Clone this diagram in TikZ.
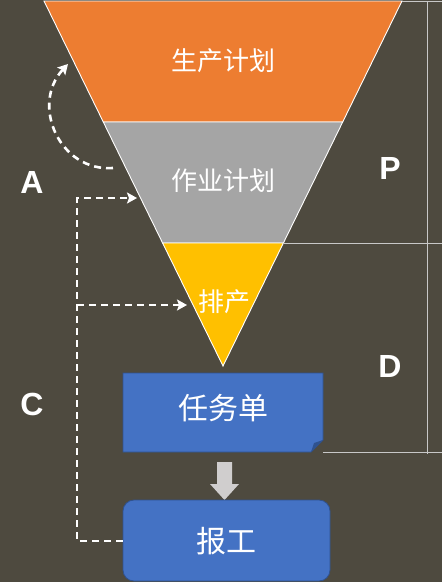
\documentclass[tikz,border=0pt]{standalone}
\usepackage{fontspec}
\newfontfamily\cjk{Noto Sans CJK SC}
\newfontfamily\lab{Liberation Sans}
\usetikzlibrary{arrows.meta}
\definecolor{bg}{HTML}{4E4A3F}
\definecolor{forange}{HTML}{ED7D31}
\definecolor{fgray}{HTML}{A5A5A5}
\definecolor{fyellow}{HTML}{FFC000}
\definecolor{fblue}{HTML}{4472C4}
\definecolor{fblued}{HTML}{2F528F}
\definecolor{guide}{HTML}{C8C8C8}
\definecolor{arrgray}{HTML}{D0CECE}
\tikzset{
  seg/.style={draw=white, line width=0.9pt, line join=miter},
  cjktext/.style={text=white, font=\cjk\fontsize{26}{30}\selectfont, inner sep=0pt},
  boxtext/.style={text=white, font=\cjk\fontsize{30}{34}\selectfont, inner sep=0pt},
  letter/.style={text=white, font=\lab\bfseries\fontsize{32}{36}\selectfont, inner sep=0pt},
  guideline/.style={draw=guide, line width=0.8pt},
  dashline/.style={draw=white, line width=2.6pt, dash pattern=on 7pt off 5pt},
  tip/.style={-{Stealth[length=10pt,width=11pt,inset=2pt]}},
}
\begin{document}
\begin{tikzpicture}[x=1pt,y=-1pt]
\fill[bg] (0,0) rectangle (442,582);
\useasboundingbox (0,0) rectangle (442,582);
% funnel
\path[seg, fill=forange] (44,1) -- (402,1) -- (342.7,122) -- (103.3,122) -- cycle;
\path[seg, fill=fgray] (103.3,122) -- (342.7,122) -- (283.4,243) -- (162.6,243) -- cycle;
\path[seg, fill=fyellow] (162.6,243) -- (283.4,243) -- (223,366) -- cycle;
\node[cjktext] (plan) at (223,61) {生产计划};
\node[cjktext] (work) at (223,181) {作业计划};
\node[cjktext] (sched) at (224,302) {排产};
% guide lines
\draw[guideline] (402,1) -- (442,1);
\draw[guideline] (283.4,243.5) -- (442,243.5);
\draw[guideline] (323,452.5) -- (442,452.5);
\draw[guideline] (427.5,1) -- (427.5,454);
% task box with folded corner
\path[fill=fblue, draw=fblued, line width=0.8pt] (123,373) -- (323,373) -- (323,440) -- (311,452) -- (123,452) -- cycle;
\path[fill=fblued] (323,440) -- (314,443) -- (311,452) -- cycle;
\node[boxtext] (task) at (223,408) {任务单};
% block arrow
\path[fill=arrgray] (217,462) -- (232,462) -- (232,484) -- (239,484) -- (224.5,500) -- (210,484) -- (217,484) -- cycle;
% report box
\node[draw=fblued, fill=fblue, line width=0.8pt, rounded corners=11pt, minimum width=207pt, minimum height=81pt, inner sep=0pt] (rep) at (226.5,540.5) {};
\node[boxtext] (reptext) at (226,541) {报工};
% letters
\node[letter] (A) at (32,182) {A};
\node[letter] (C) at (32,404) {C};
\node[letter] (P) at (390,168) {P};
\node[letter] (D) at (390,366) {D};
% dashed connectors
\coordinate (cs) at (113,168);
\coordinate (ce) at (68,64);
\coordinate (t1) at (137,198);
\coordinate (t2) at (187,305);
\coordinate (corner) at (77,541);
\draw[dashline, tip] (cs) .. controls (60,172) and (30,105) .. (ce);
\draw[dashline, tip] (rep.west |- corner) -- (corner) -- (corner |- t1) -- (t1);
\draw[dashline, tip] (corner |- t2) -- (t2);
\end{tikzpicture}
\end{document}
